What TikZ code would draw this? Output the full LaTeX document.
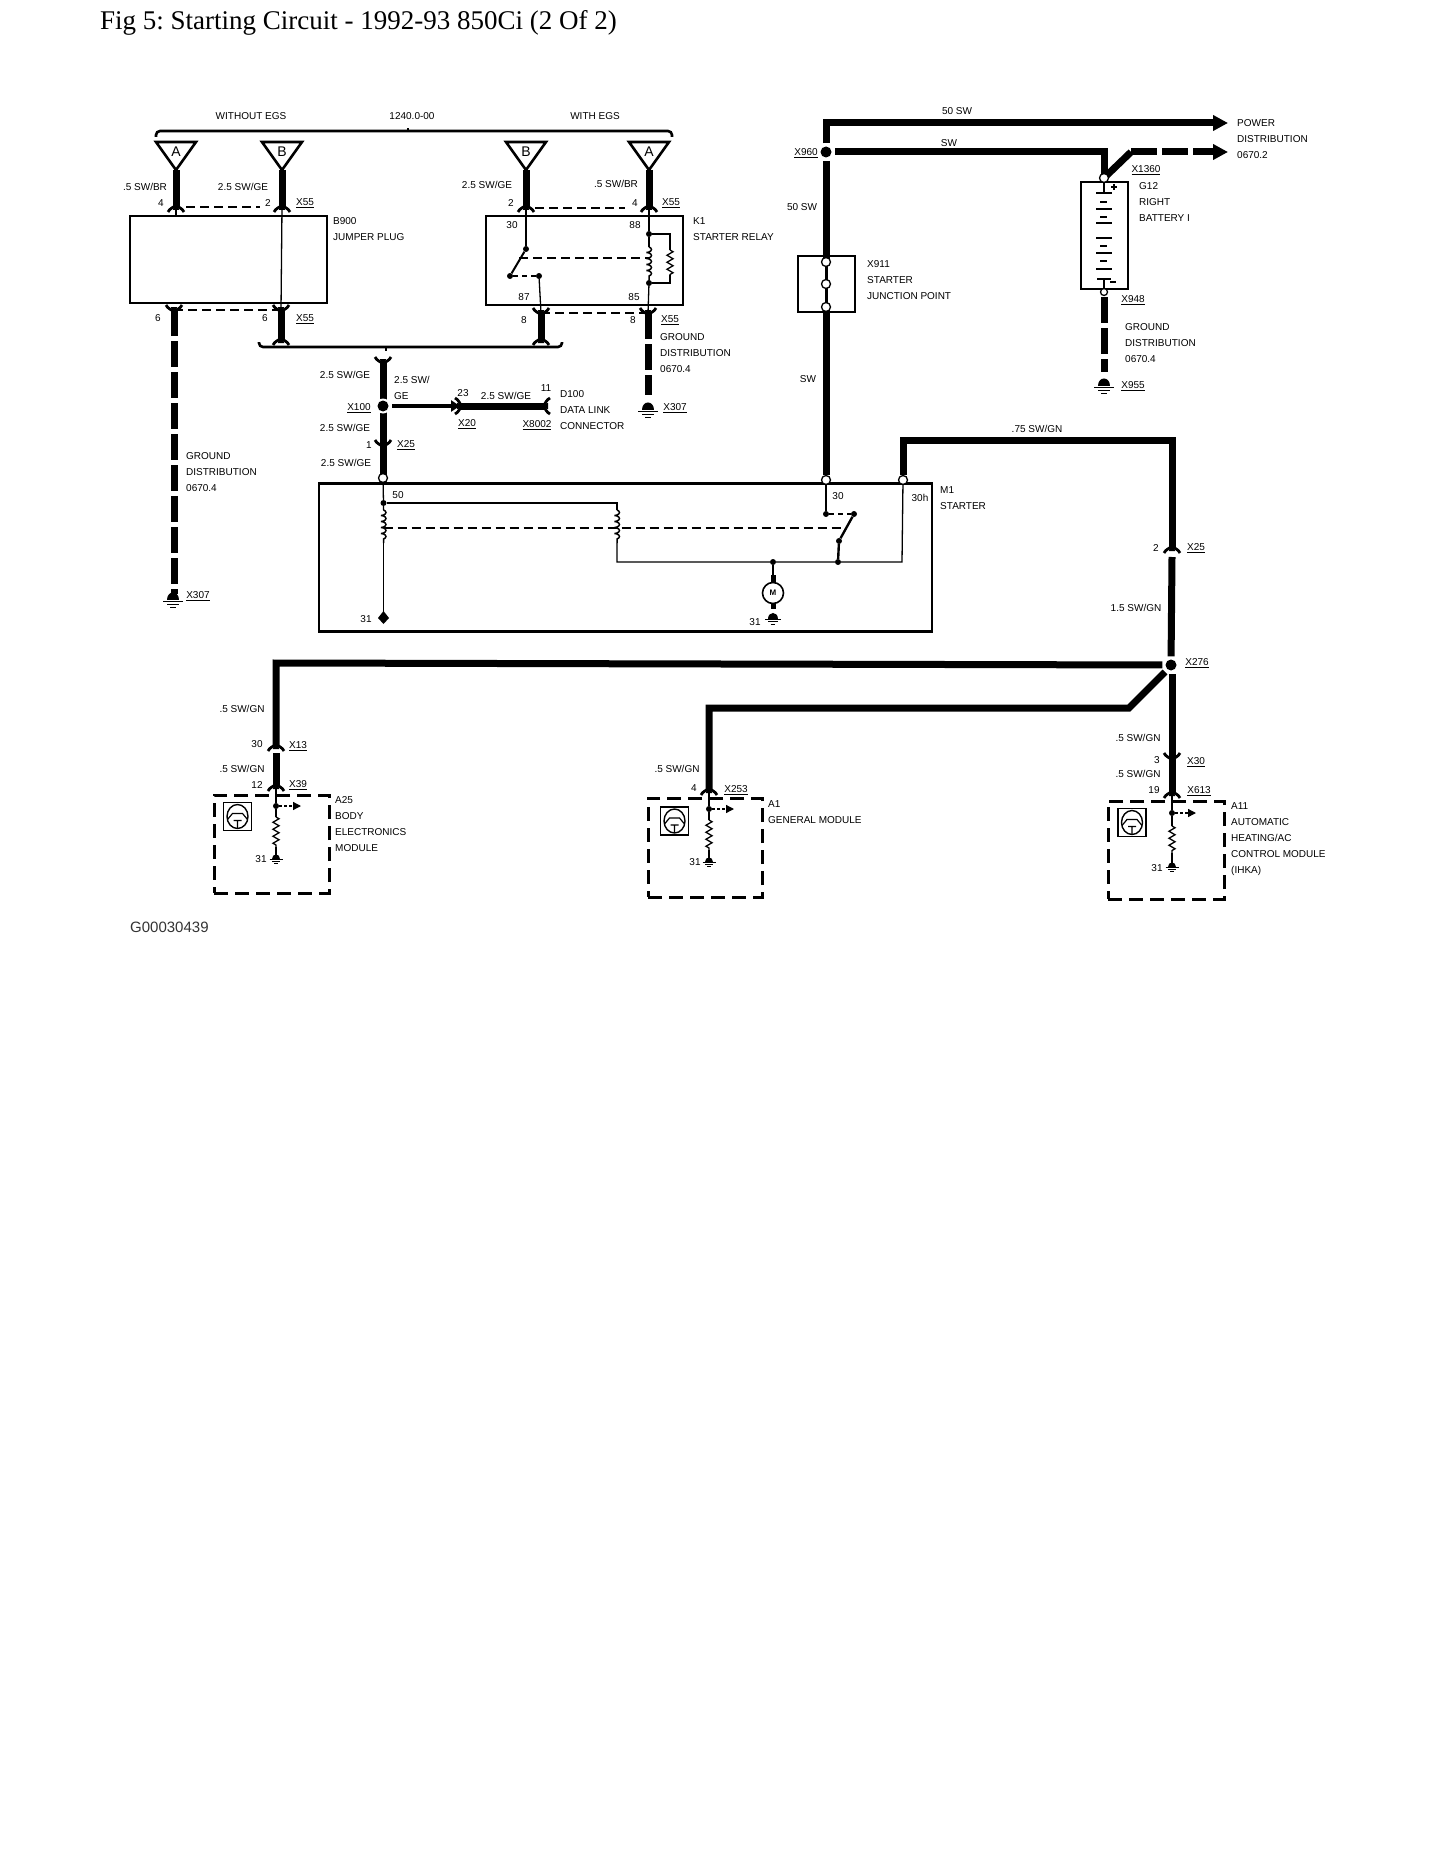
\documentclass[tikz,border=0pt]{standalone}
\usepackage{fontspec}
\setmainfont{Liberation Serif}
\setsansfont{Liberation Sans}
\usepackage{xcolor}
\usetikzlibrary{arrows.meta,decorations.pathmorphing}

\begin{document}
\frenchspacing
\begin{tikzpicture}[x=1pt,y=-1pt,>=Latex]
\tikzset{
  wire/.style={line width=7pt},
  wiredash/.style={line width=7pt,dash pattern=on 26pt off 5pt},
  thinw/.style={line width=1.3pt},
  linkdash/.style={line width=1.3pt,dash pattern=on 9pt off 5pt},
  brace/.style={line width=2.6pt,rounded corners=4pt},
  box/.style={draw,line width=2.4pt,inner sep=0pt},
  modbox/.style={draw,line width=3pt,dash pattern=on 14pt off 7pt,inner sep=0pt},
  ring/.style={circle,draw,fill=white,line width=1.3pt,inner sep=0pt,minimum size=9pt},
  halo/.style={circle,fill=white,inner sep=0pt,minimum size=17pt},
  dot/.style={circle,fill=black,inner sep=0pt,minimum size=6pt},
  bigdot/.style={circle,fill=black,inner sep=0pt,minimum size=11pt},
  lbl/.style={font=\fontsize{10}{16}\selectfont\sffamily,inner sep=0pt},
  txt/.style={font=\fontsize{10}{16}\selectfont\sffamily,inner sep=0pt,align=left,anchor=north west,yshift=-3.5pt},
  res/.style={line width=1.3pt,decorate,decoration={zigzag,segment length=7pt,amplitude=3pt}},
  coilw/.style={line width=1.5pt,decorate,decoration={coil,amplitude=2.5pt,segment length=6pt,aspect=0.4}},
  pics/conn/.style={code={
    \draw[line width=2.8pt] (-8,-5) .. controls (-6,-1) and (-3,-1) .. (0,2) .. controls (3,-1) and (6,-1) .. (8,-5);
    \fill (-3,-3) -- (3,-3) -- (1.5,4) -- (-1.5,4) -- cycle;}},
  pics/plug/.style={code={
    \draw[line width=2.6pt] (-20,0) -- (20,0) -- (0,28) -- cycle;
    \node[font=\fontsize{14}{14}\selectfont\sffamily,inner sep=0pt] at (0,10) {#1};}},
  pics/earth/.style={code={
    \fill (-6,2) .. controls (-6,-8) and (6,-8) .. (6,2) -- cycle;
    \draw[line width=1pt] (-10,3) -- (10,3) (-6,6) -- (6,6) (-3,9) -- (3,9);}},
  pics/chip/.style={code={
    \draw[line width=1.4pt] (-14,-14) rectangle (14,14);
    \draw[line width=1.4pt] (0,0) ellipse (10.5 and 12);
    \draw[line width=1.2pt] (-10,3) -- (-5,-3) -- (5,-3) -- (10,3) (-4,4) -- (4,4) (0,4) -- (0,12);}}
}
\useasboundingbox (0,0) rectangle (1445,1870);

\node[font=\fontsize{27}{27}\selectfont,inner sep=0pt,anchor=west] (title) at (100,23) {Fig 5: Starting Circuit - 1992-93 850Ci (2 Of 2)};

% boxes
\node[box,minimum width=197pt,minimum height=87pt] (b900) at (228.5,259.5) {};
\node[box,minimum width=197pt,minimum height=89pt] (k1) at (584.5,260.5) {};
\node[box,minimum width=57pt,minimum height=56pt] (x911) at (826.5,284) {};
\node[box,minimum width=47pt,minimum height=107pt] (g12) at (1104.5,235.5) {};
\node[box,minimum width=613pt,minimum height=148pt] (m1) at (625.5,557.5) {};
\node[modbox,minimum width=115pt,minimum height=98pt] (a25) at (271.5,844) {};
\node[modbox,minimum width=114pt,minimum height=99pt] (a1) at (705,847.5) {};
\node[modbox,minimum width=116pt,minimum height=98pt] (a11) at (1166,850) {};

% top braces and plugs
\coordinate (brl) at (156,137);
\coordinate (brm) at (408,131);
\coordinate (brr) at (672,137);
\draw[brace] (brl) |- (brm) -| (brr);
\draw[line width=2pt] (brm) -- ++(0,-3);
\coordinate (bbl) at (259,342);
\coordinate (bbm) at (386,347);
\coordinate (bbr) at (562,342);
\draw[brace] (bbl) |- (bbm) -| (bbr);
\draw[line width=2pt] (bbm) -- ++(0,4);

\pic at (176,142) {plug=A};
\pic at (282,142) {plug=B};
\pic at (526,142) {plug=B};
\pic at (649,142) {plug=A};

% jumper plug wires
\coordinate (pa1) at (176,170);
\coordinate (pa2) at (176,207);
\coordinate (pb1) at (282,170);
\coordinate (pb2) at (282,207);
\coordinate (qa1) at (174,310);
\coordinate (qa2) at (174,594);
\coordinate (qb1) at (281,310);
\coordinate (qb2) at (281,340);
\coordinate (la1) at (186,207);
\coordinate (la2) at (260,207);
\draw[wire] (pa1) -- (pa2);
\draw[wire] (pb1) -- (pb2);
\draw[wiredash] (qa1) -- (qa2);
\draw[wire] (qb1) -- (qb2);
\draw[thinw] (pb2) -- (qb1);
\draw[thinw] (pa2) -- (176,216);
\draw[linkdash] (la1) -- (la2);
\draw[linkdash] (qa1) -- (qb1);
\pic[rotate=180] at (pa2) {conn};
\pic[rotate=180] at (pb2) {conn};
\pic at (qa1) {conn};
\pic at (qb1) {conn};
\pic[rotate=180] at (qb2) {conn};
\pic at (173,598) {earth};

% starter relay wires
\coordinate (ra1) at (526,170);
\coordinate (ra2) at (526,207);
\coordinate (rb1) at (649,170);
\coordinate (rb2) at (649,207);
\coordinate (sa1) at (541,313);
\coordinate (sa2) at (541,340);
\coordinate (sb1) at (648,313);
\coordinate (sb2) at (648,395);
\coordinate (lr1) at (535,208);
\coordinate (lr2) at (625,208);
\draw[wire] (ra1) -- (ra2);
\draw[wire] (rb1) -- (rb2);
\draw[wire] (sa1) -- (sa2);
\draw[wiredash] (sb1) -- (sb2);
\draw[linkdash] (lr1) -- (lr2);
\draw[linkdash] (sa1) -- (sb1);
\pic[rotate=180] at (ra2) {conn};
\pic[rotate=180] at (rb2) {conn};
\pic at (sa1) {conn};
\pic at (sb1) {conn};
\pic[rotate=180] at (sa2) {conn};
\pic at (648,408) {earth};

\node[dot] (c30) at (526,249) {};
\node[dot] (c87a) at (510,276) {};
\node[dot] (c87b) at (539,276) {};
\node[dot] (c88) at (649,234) {};
\node[dot] (c85) at (649,283) {};
\coordinate (coilt) at (649,247);
\coordinate (coilb) at (649,280);
\coordinate (rest) at (670,250);
\coordinate (resb) at (670,275);
\coordinate (blade) at (519,258);
\coordinate (bladec) at (649,258);
\draw[thinw] (ra2) -- (c30);
\draw[line width=2pt] (c30) -- (c87a);
\draw[thinw,dash pattern=on 5pt off 4pt] (c87a) -- (c87b);
\draw[thinw] (c87b) -- (sa1);
\draw[thinw] (rb2) -- (c88) -- (coilt);
\draw[coilw] (coilt) -- (coilb);
\draw[thinw] (coilb) -- (c85) -- (sb1);
\draw[thinw] (c88) -| (rest);
\draw[res] (rest) -- (resb);
\draw[thinw] (resb) |- (c85);
\draw[linkdash] (blade) -- (bladec);

% X100 splice and data link
\coordinate (ta) at (383,362);
\coordinate (tb) at (383,445);
\coordinate (tc) at (383,478);
\coordinate (da) at (392,406);
\coordinate (db) at (460,406);
\coordinate (dc) at (545,406);
\draw[wire] (ta) -- (tb);
\draw[wire] (tb) -- (tc);
\draw[wire,-{Triangle[length=9pt,width=11pt]},line width=4.5pt] (da) -- (db);
\draw[wire] (db) -- (dc);
\node[halo,minimum size=15pt] (x100w) at (383,406) {};
\node[bigdot] (x100) at (383,406) {};
\pic at (ta) {conn};
\pic at (tb) {conn};
\pic[rotate=90] at (db) {conn};
\pic[rotate=-90] at (dc) {conn};
\node[ring] (r50) at (383,478) {};

% starter inside
\node[dot] (c50) at (383.5,503) {};
\coordinate (cl1) at (383.5,510);
\coordinate (cl2) at (383.5,543);
\coordinate (gnd1) at (383.5,618);
\coordinate (cr0) at (617,503);
\coordinate (cr1) at (617,510);
\coordinate (cr2) at (617,543);
\coordinate (cr3) at (617,562);
\node[dot] (cm) at (773,562) {};
\node[dot] (cs) at (838,562) {};
\coordinate (cw) at (902,562);
\node[dot] (s30) at (826,514) {};
\node[dot] (sr) at (854,514) {};
\node[dot] (sl) at (839,541) {};
\node[ring] (r30) at (826,480) {};
\node[ring] (r30h) at (903,480) {};
\coordinate (dl) at (383.5,528);
\coordinate (dr) at (845,528);
\draw[thinw] (r50) -- (c50) -- (cl1);
\draw[coilw] (cl1) -- (cl2);
\draw[thinw] (cl2) -- (gnd1);
\fill (383.5,611) -- (389,618) -- (383.5,624) -- (378,618) -- cycle;
\draw[thinw] (c50) -- (cr0) -- (cr1);
\draw[coilw] (cr1) -- (cr2);
\draw[thinw] (cr2) -- (cr3) -- (cm) -- (cs) -- (cw) -- (r30h);
\draw[linkdash] (dl) -- (dr);
\draw[thinw] (r30) -- (s30);
\draw[thinw,dash pattern=on 5pt off 4pt] (s30) -- (sr);
\draw[line width=2.4pt] (sr) -- (sl) -- (cs);
\node[circle,draw,line width=1.6pt,inner sep=0pt,minimum size=21pt,font=\fontsize{8}{8}\selectfont\sffamily\bfseries] (mot) at (773,593) {M};
\draw[thinw] (cm) -- (mot);
\draw[line width=5pt] (773,575) -- (773,583) (773,603) -- (773,609);
\pic[scale=.8] at (773,617) {earth};

% battery feed
\coordinate (u1) at (826,123);
\coordinate (u2) at (1228,123);
\node[halo] (x960w) at (826,152) {};
\node[bigdot] (x960) at (826,152) {};
\coordinate (u3) at (826,161);
\coordinate (u4) at (826,262);
\coordinate (u5) at (826,307);
\coordinate (v1) at (835,152);
\coordinate (v2) at (1104,152);
\coordinate (v3) at (1104,178);
\coordinate (v4) at (1131,152);
\coordinate (v5) at (1228,152);
\draw[wire,-{Triangle[length=15pt,width=15pt]}] (x960w.north) -- (u1) -- (u2);
\draw[wire] (u3) -- (u4);
\draw[wire] (u5) -- (r30);
\draw[thinw,line width=3pt] (u4) -- (u5);
\draw[wire] (v1) -- (v2) -- (v3);
\draw[wire] (v3) -- (v4);
\draw[wiredash,-{Triangle[length=15pt,width=15pt]}] (v4) -- (v5);
\node[ring] (j1) at (826,262) {};
\node[ring] (j2) at (826,284) {};
\node[ring] (j3) at (826,307) {};

% battery
\node[ring] (batt) at (1104,178) {};
\node[ring,minimum size=7pt] (batb) at (1104,292) {};
\coordinate (w1) at (1104,297);
\coordinate (w2) at (1104,372);
\draw[wiredash] (w1) -- (w2);
\pic at (1104,384) {earth};
\draw[thinw] (batt) -- (1104,193) (1104,279) -- (batb);
\draw[line width=1.2pt] (1096,193) -- (1112,193) (1100,202) -- (1107,202)
  (1096,209) -- (1112,209) (1100,217) -- (1107,217) (1096,223) -- (1112,223)
  (1096,238) -- (1112,238) (1100,246) -- (1107,246) (1096,253) -- (1112,253)
  (1100,261) -- (1107,261) (1096,269) -- (1112,269) (1097,279) -- (1111,279)
  (1114,184) -- (1114,190) (1111,187) -- (1117,187) (1110,282) -- (1116,282);

% start signal
\coordinate (y1) at (903,440);
\coordinate (y2) at (1172,440);
\coordinate (y3) at (1172,548);
\coordinate (y4) at (1172,557);
\node[halo] (x276w) at (1171,665) {};
\node[bigdot] (x276) at (1171,665) {};
\coordinate (y5) at (276,663);
\coordinate (y6) at (276,746);
\coordinate (y7) at (276,753);
\coordinate (y8) at (276,786);
\coordinate (z1) at (1165,672);
\coordinate (z2) at (1129,708);
\coordinate (z3) at (709,708);
\coordinate (z4) at (709,790);
\coordinate (k1a) at (1172,674);
\coordinate (k1b) at (1172,758);
\coordinate (k1c) at (1172,793);
\draw[wire] (r30h) -- (y1) -- (y2) -- (y3);
\draw[wire] (y4) -- (x276w);
\draw[wire] (x276w) -- (y5) -- (y6);
\draw[wire] (y7) -- (y8);
\draw[wire] (z1) -- (z2) -- (z3) -- (z4);
\draw[wire] (k1a) -- (k1b);
\draw[wire] (k1b) -- (k1c);
\pic[rotate=180] at (y3) {conn};
\pic[rotate=180] at (y6) {conn};
\pic[rotate=180] at (y8) {conn};
\pic[rotate=180] at (z4) {conn};
\pic at (k1b) {conn};
\pic[rotate=180] at (k1c) {conn};

% body electronics module
\node[dot] (a25d) at (276,806) {};
\coordinate (a25e) at (301,806);
\coordinate (a25r) at (276,817);
\coordinate (a25s) at (276,847);
\coordinate (a25g) at (276,858);
\draw[thinw] (y8) -- (a25d) -- (a25r);
\draw[thinw,dash pattern=on 3pt off 2pt,-{Triangle[length=8pt,width=8pt]}] (a25d) -- (a25e);
\draw[res] (a25r) -- (a25s);
\draw[thinw] (a25s) -- (a25g);
\pic[scale=.65] at (a25g) {earth};
\pic at (237.5,816.5) {chip};

% general module
\node[dot] (a1d) at (709,809) {};
\coordinate (a1e) at (734,809);
\coordinate (a1r) at (709,820);
\coordinate (a1s) at (709,850);
\coordinate (a1g) at (709,861);
\draw[thinw] (z4) -- (a1d) -- (a1r);
\draw[thinw,dash pattern=on 3pt off 2pt,-{Triangle[length=8pt,width=8pt]}] (a1d) -- (a1e);
\draw[res] (a1r) -- (a1s);
\draw[thinw] (a1s) -- (a1g);
\pic[scale=.65] at (a1g) {earth};
\pic at (674.5,821) {chip};

% heating module
\node[dot] (a11d) at (1172,813) {};
\coordinate (a11e) at (1196,813);
\coordinate (a11r) at (1172,826);
\coordinate (a11s) at (1172,853);
\coordinate (a11g) at (1172,866);
\draw[thinw] (k1c) -- (a11d) -- (a11r);
\draw[thinw,dash pattern=on 3pt off 2pt,-{Triangle[length=8pt,width=8pt]}] (a11d) -- (a11e);
\draw[res] (a11r) -- (a11s);
\draw[thinw] (a11s) -- (a11g);
\pic[scale=.65] at (a11g) {earth};
\pic at (1132,822.5) {chip};

% labels, top left
\node[lbl] (l1) at (251,116) {WITHOUT EGS};
\node[lbl] (l2) at (412,116) {1240.0-00};
\node[lbl] (l3) at (595,116) {WITH EGS};
\node[lbl] (l4) at (145,187) {.5 SW/BR};
\node[lbl] (l5) at (243,187) {2.5 SW/GE};
\node[lbl] (l6) at (161,203) {4};
\node[lbl] (l7) at (268,203) {2};
\node[lbl] (l8) at (305,203) {\underline{X55}};
\node[lbl] (l9) at (487,185) {2.5 SW/GE};
\node[lbl] (l10) at (616,184) {.5 SW/BR};
\node[lbl] (l11) at (511,203) {2};
\node[lbl] (l12) at (635,203) {4};
\node[lbl] (l13) at (671,203) {\underline{X55}};
\node[txt] (l14) at (333,214) {B900\\JUMPER PLUG};
\node[txt] (l15) at (693,214) {K1\\STARTER RELAY};
\node[lbl] (l16) at (512,225) {30};
\node[lbl] (l17) at (635,225) {88};
\node[lbl] (l18) at (524,297) {87};
\node[lbl] (l19) at (634,297) {85};
\node[lbl] (l20) at (158,318) {6};
\node[lbl] (l21) at (265,318) {6};
\node[lbl] (l22) at (305,319) {\underline{X55}};
\node[lbl] (l23) at (524,320) {8};
\node[lbl] (l24) at (633,320) {8};
\node[lbl] (l25) at (670,320) {\underline{X55}};
\node[txt] (l26) at (660,330) {GROUND\\DISTRIBUTION\\0670.4};
\node[lbl] (l27) at (675,408) {\underline{X307}};
\node[txt] (l28) at (186,449) {GROUND\\DISTRIBUTION\\0670.4};
\node[lbl] (l29) at (198,596) {\underline{X307}};

% labels, middle
\node[lbl] (l30) at (345,375) {2.5 SW/GE};
\node[txt] (l31) at (394,373) {2.5 SW/\\GE};
\node[lbl] (l32) at (359,408) {\underline{X100}};
\node[lbl] (l33) at (345,428) {2.5 SW/GE};
\node[lbl] (l34) at (369,445) {1};
\node[lbl] (l35) at (406,445) {\underline{X25}};
\node[lbl] (l36) at (346,463) {2.5 SW/GE};
\node[lbl] (l37) at (463,393) {23};
\node[lbl] (l38) at (506,396) {2.5 SW/GE};
\node[lbl] (l39) at (546,388) {11};
\node[txt] (l40) at (560,387) {D100\\DATA LINK\\CONNECTOR};
\node[lbl] (l41) at (467,424) {\underline{X20}};
\node[lbl] (l42) at (537,425) {\underline{X8002}};
\node[lbl] (l43) at (398,495) {50};
\node[lbl] (l44) at (838,496) {30};
\node[lbl] (l45) at (920,498) {30h};
\node[txt] (l46) at (940,483) {M1\\STARTER};
\node[lbl] (l47) at (366,619) {31};
\node[lbl] (l48) at (755,622) {31};

% labels, right
\node[lbl] (l50) at (957,111) {50 SW};
\node[lbl] (l51) at (949,143) {SW};
\node[lbl] (l52) at (806,153) {\underline{X960}};
\node[lbl] (l53) at (802,207) {50 SW};
\node[txt] (l54) at (867,257) {X911\\STARTER\\JUNCTION POINT};
\node[lbl] (l55) at (808,379) {SW};
\node[txt] (l56) at (1237,116) {POWER\\DISTRIBUTION\\0670.2};
\node[lbl] (l57) at (1146,170) {\underline{X1360}};
\node[txt] (l58) at (1139,179) {G12\\RIGHT\\BATTERY I};
\node[lbl] (l59) at (1133,300) {\underline{X948}};
\node[txt] (l60) at (1125,320) {GROUND\\DISTRIBUTION\\0670.4};
\node[lbl] (l61) at (1133,386) {\underline{X955}};
\node[lbl] (l62) at (1037,429) {.75 SW/GN};
\node[lbl] (l63) at (1156,548) {2};
\node[lbl] (l64) at (1196,548) {\underline{X25}};
\node[lbl] (l65) at (1136,608) {1.5 SW/GN};
\node[lbl] (l66) at (1197,663) {\underline{X276}};

% labels, modules
\node[lbl] (l70) at (242,709) {.5 SW/GN};
\node[lbl] (l71) at (257,744) {30};
\node[lbl] (l72) at (298,746) {\underline{X13}};
\node[lbl] (l73) at (242,769) {.5 SW/GN};
\node[lbl] (l74) at (257,785) {12};
\node[lbl] (l75) at (298,785) {\underline{X39}};
\node[txt] (l76) at (335,793) {A25\\BODY\\ELECTRONICS\\MODULE};
\node[lbl] (l77) at (261,859) {31};
\node[lbl] (l78) at (677,769) {.5 SW/GN};
\node[lbl] (l79) at (694,788) {4};
\node[lbl] (l80) at (736,790) {\underline{X253}};
\node[txt] (l81) at (768,797) {A1\\GENERAL MODULE};
\node[lbl] (l82) at (695,862) {31};
\node[lbl] (l83) at (1138,738) {.5 SW/GN};
\node[lbl] (l84) at (1157,760) {3};
\node[lbl] (l85) at (1196,762) {\underline{X30}};
\node[lbl] (l86) at (1138,774) {.5 SW/GN};
\node[lbl] (l87) at (1154,790) {19};
\node[lbl] (l88) at (1199,791) {\underline{X613}};
\node[txt] (l89) at (1231,799) {A11\\AUTOMATIC\\HEATING/AC\\CONTROL MODULE\\(IHKA)};
\node[lbl] (l90) at (1157,868) {31};
\node[font=\fontsize{15}{15}\selectfont\sffamily,text=black!80,inner sep=0pt,anchor=west] (code) at (130,927) {G00030439};
\end{tikzpicture}
\end{document}
